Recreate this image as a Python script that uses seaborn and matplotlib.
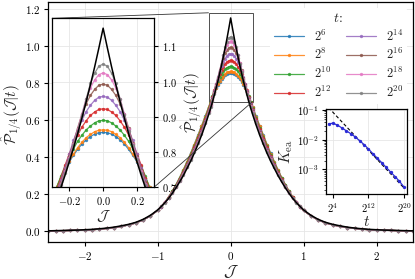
import numpy as np
import matplotlib
matplotlib.use("Agg")
import matplotlib.pyplot as plt
import seaborn as sns
from mpl_toolkits.axes_grid1.inset_locator import mark_inset

# half-grid (J >= 0); the distributions are symmetric in J
J_core = [0.0, 0.025, 0.05, 0.075, 0.1, 0.125, 0.15, 0.175, 0.2, 0.225, 0.25, 0.275, 0.3,
          0.35, 0.4, 0.45, 0.5, 0.55, 0.6, 0.65, 0.7, 0.75, 0.8, 0.85, 0.9, 0.95, 1.0]
J_tail = [1.1, 1.2, 1.3, 1.4, 1.5, 1.6, 1.7, 1.8, 1.9, 2.0, 2.1, 2.2, 2.3, 2.4, 2.5]

P_limit = [1.152, 1.096, 1.042, 0.991, 0.943, 0.897, 0.853, 0.811, 0.772, 0.734, 0.698, 0.664, 0.632,
           0.572, 0.517, 0.467, 0.420, 0.377, 0.338, 0.300, 0.266, 0.234, 0.205, 0.178, 0.155, 0.134, 0.115]
P_limit_tail = [0.086, 0.064, 0.048, 0.037, 0.029, 0.022, 0.017, 0.013, 0.010, 0.008, 0.006, 0.005,
                0.004, 0.003, 0.002]

P_t6 = [0.856, 0.855, 0.851, 0.844, 0.835, 0.823, 0.808, 0.791, 0.772, 0.750, 0.726, 0.700, 0.673,
        0.620, 0.568, 0.518, 0.468, 0.420, 0.375, 0.331, 0.290, 0.252, 0.217, 0.185, 0.157, 0.133, 0.112]
P_t8 = [0.863, 0.862, 0.858, 0.850, 0.841, 0.828, 0.813, 0.794, 0.775, 0.752, 0.727, 0.700, 0.672,
        0.618, 0.566, 0.516, 0.466, 0.418, 0.374, 0.330, 0.289, 0.251, 0.217, 0.185, 0.157, 0.133, 0.112]
P_t10 = [0.890, 0.889, 0.883, 0.874, 0.863, 0.848, 0.831, 0.809, 0.786, 0.760, 0.731, 0.698, 0.666,
         0.612, 0.559, 0.509, 0.460, 0.413, 0.369, 0.326, 0.286, 0.249, 0.215, 0.184, 0.157, 0.133, 0.113]
P_t12 = [0.923, 0.921, 0.914, 0.904, 0.889, 0.871, 0.849, 0.823, 0.795, 0.762, 0.726, 0.692, 0.660,
         0.605, 0.552, 0.502, 0.453, 0.406, 0.363, 0.321, 0.282, 0.246, 0.213, 0.183, 0.156, 0.133, 0.113]
P_t14 = [0.958, 0.956, 0.947, 0.933, 0.915, 0.891, 0.865, 0.833, 0.794, 0.756, 0.720, 0.686, 0.654,
         0.597, 0.544, 0.494, 0.445, 0.400, 0.358, 0.316, 0.279, 0.244, 0.211, 0.182, 0.156, 0.133, 0.113]
P_t16 = [0.993, 0.990, 0.978, 0.961, 0.937, 0.908, 0.869, 0.827, 0.788, 0.750, 0.714, 0.680, 0.648,
         0.591, 0.537, 0.487, 0.439, 0.394, 0.353, 0.312, 0.275, 0.241, 0.210, 0.181, 0.156, 0.134, 0.114]
P_t18 = [1.025, 1.020, 1.005, 0.982, 0.952, 0.909, 0.865, 0.823, 0.784, 0.746, 0.710, 0.676, 0.644,
         0.585, 0.531, 0.481, 0.433, 0.389, 0.348, 0.309, 0.273, 0.239, 0.208, 0.180, 0.156, 0.134, 0.114]
P_t20 = [1.050, 1.044, 1.024, 0.995, 0.951, 0.905, 0.861, 0.819, 0.780, 0.742, 0.706, 0.672, 0.640,
         0.582, 0.527, 0.477, 0.430, 0.386, 0.346, 0.306, 0.271, 0.238, 0.207, 0.179, 0.155, 0.134, 0.114]
# all finite-t curves overlap in the far tails
P_tail = [0.083, 0.061, 0.045, 0.034, 0.026, 0.020, 0.015, 0.011, 0.008, 0.006, 0.005, 0.004,
          0.003, 0.002, 0.002]

t_labels = [r'$2^{6}$', r'$2^{8}$', r'$2^{10}$', r'$2^{12}$',
            r'$2^{14}$', r'$2^{16}$', r'$2^{18}$', r'$2^{20}$']

# K_ea(t) inset
t_exp = [3, 4, 5, 6, 7, 8, 9, 10, 11, 12, 13, 14, 15, 16, 17, 18, 19, 20]
K_ea = [0.034, 0.036, 0.031, 0.025, 0.020, 0.016, 0.0125, 0.0093, 0.0069, 0.0049, 0.0034,
        0.0024, 0.0017, 0.00118, 0.00082, 0.00058, 0.00040, 0.00026]
guide_t_exp = [3, 20]
guide_K = [0.12, 0.00024]


def full_J():
    half = np.array(J_core + J_tail)
    return np.concatenate([-half[:0:-1], half])


def full_P(core, tail):
    half = np.array(core + tail)
    return np.concatenate([half[:0:-1], half])


sns.set_theme(style="whitegrid")
plt.rcParams.update({
    'font.family': 'serif',
    'font.serif': ['cmr10'],
    'mathtext.fontset': 'cm',
    'axes.formatter.use_mathtext': True,
    'axes.edgecolor': 'black',
    'axes.linewidth': 0.9,
    'grid.color': '#e6e6e6',
    'grid.linewidth': 0.6,
    'xtick.bottom': True,
    'ytick.left': True,
    'xtick.major.size': 3,
    'ytick.major.size': 3,
    'xtick.major.width': 0.8,
    'ytick.major.width': 0.8,
    'xtick.color': 'black',
    'ytick.color': 'black',
    'xtick.major.pad': 2.5,
    'ytick.major.pad': 2.5,
})

J = full_J()
series = [P_t6, P_t8, P_t10, P_t12, P_t14, P_t16, P_t18, P_t20]
colors = sns.color_palette("tab10", 8)

fig = plt.figure(figsize=(4.15, 2.79), dpi=100)
ax = fig.add_axes([0.1164, 0.1315, 0.8788, 0.8625])
axins = fig.add_axes([0.126, 0.3287, 0.245, 0.6057])

for a in (ax, axins):
    for P, c, lab in zip(series, colors, t_labels):
        sns.lineplot(x=J, y=full_P(P, P_tail), ax=a, color=c, marker='o', markersize=2.4,
                     markeredgewidth=0, lw=0.9, alpha=0.85, label=lab, legend=False)
    sns.lineplot(x=J, y=full_P(P_limit, P_limit_tail), ax=a, color='black', lw=1.1,
                 zorder=5, legend=False)

ax.set_xlim(-2.5, 2.5)
ax.set_ylim(-0.06, 1.24)
ax.set_xticks([-2, -1, 0, 1, 2])
ax.set_yticks([0.0, 0.2, 0.4, 0.6, 0.8, 1.0, 1.2])
ax.tick_params(labelsize=8)
ax.set_xlabel(r'$\mathcal{J}$', fontsize=12, labelpad=1)
ax.set_ylabel(r'$\hat{\mathcal{P}}_{1/4}(\mathcal{J}|t)$', fontsize=11)
ax.yaxis.set_label_coords(-0.064, 0.53)

handles, labels = ax.get_legend_handles_labels()
ax.legend(handles[:8], labels[:8], title=r'$t$:', ncol=2, loc='upper right',
          bbox_to_anchor=(1.0, 1.0), fontsize=9, title_fontsize=10, frameon=True,
          facecolor='white', edgecolor='none', framealpha=1, handlelength=2.4,
          columnspacing=1.2, labelspacing=0.3, borderpad=0.3)

axins.set_xlim(-0.3, 0.3)
axins.set_ylim(0.7, 1.18)
axins.set_xticks([-0.2, 0.0, 0.2])
axins.set_yticks([0.7, 0.8, 0.9, 1.0, 1.1])
axins.yaxis.tick_right()
axins.yaxis.set_label_position('right')
axins.tick_params(labelsize=7.5, right=True, left=False)
axins.set_xlabel(r'$\mathcal{J}$', fontsize=11, labelpad=1)
axins.set_ylabel(r'$\hat{\mathcal{P}}_{1/4}(\mathcal{J}|t)$', fontsize=11, labelpad=2)
mark_inset(ax, axins, loc1=2, loc2=4, fc='none', ec='0.2', lw=0.6)

axk = fig.add_axes([0.7855, 0.3047, 0.195, 0.3047])
axk.set_xscale('log', base=2)
axk.set_yscale('log')
sns.lineplot(x=2.0 ** np.array(guide_t_exp), y=guide_K, ax=axk, color='black', lw=0.8,
             linestyle=(0, (3, 2)), legend=False)
sns.lineplot(x=2.0 ** np.array(t_exp), y=K_ea, ax=axk, color='#2b2bd6', marker='o',
             markersize=2.4, markeredgewidth=0, lw=0.9, legend=False)
axk.set_xlim(2 ** 2.42, 2 ** 20.68)
axk.set_ylim(1.5e-4, 0.108)
axk.set_xticks([2 ** 4, 2 ** 12, 2 ** 20])
axk.set_xticklabels([r'$2^{4}$', r'$2^{12}$', r'$2^{20}$'])
axk.xaxis.set_minor_locator(matplotlib.ticker.NullLocator())
axk.set_yticks([1e-1, 1e-2, 1e-3])
axk.tick_params(labelsize=7.5)
axk.tick_params(axis='y', which='minor', left=True, length=1.5, width=0.5)
axk.grid(True, which='major')
axk.set_xlabel(r'$t$', fontsize=11, labelpad=0)
axk.set_ylabel(r'$K_{\rm ea}$', fontsize=11, labelpad=1)

fig.savefig('out.png', dpi=100)
